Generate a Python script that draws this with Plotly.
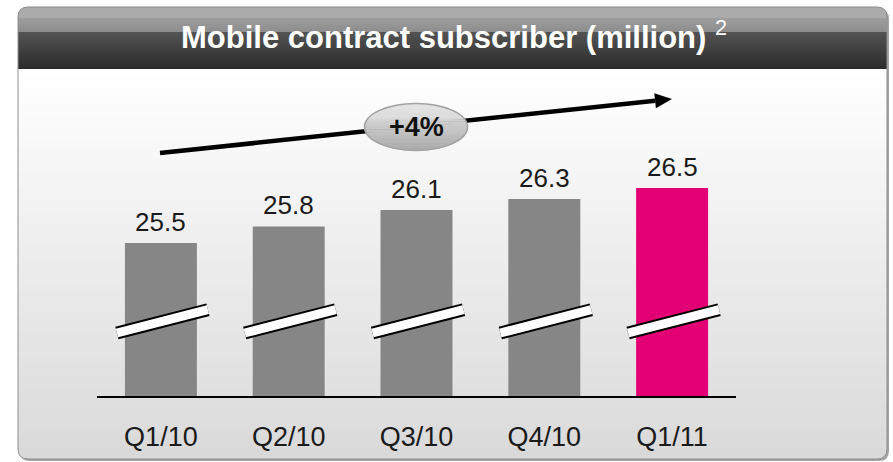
import numpy as np
import plotly.graph_objects as go

# ---------------- data ----------------
categories = ["Q1/10", "Q2/10", "Q3/10", "Q4/10", "Q1/11"]
values = [25.5, 25.8, 26.1, 26.3, 26.5]
value_labels = ["25.5", "25.8", "26.1", "26.3", "26.5"]
bar_colors = ["#868686", "#868686", "#868686", "#868686", "#e20074"]
growth_label = "+4%"
title_text = "<b>Mobile contract subscriber (million)</b> <sup>2</sup>"

# ---------------- geometry helpers (pixel -> paper) ----------------
W, H = 893, 462


def P(x, y):
    return f"{x / W:.5f},{1 - y / H:.5f}"


def rpath(x0, y0, x1, y1, rt, rb):
    return (f"M {P(x0 + rt, y0)} L {P(x1 - rt, y0)} Q {P(x1, y0)} {P(x1, y0 + rt)} "
            f"L {P(x1, y1 - rb)} Q {P(x1, y1)} {P(x1 - rb, y1)} "
            f"L {P(x0 + rb, y1)} Q {P(x0, y1)} {P(x0, y1 - rb)} "
            f"L {P(x0, y0 + rt)} Q {P(x0, y0)} {P(x0 + rt, y0)} Z")


def lerp_color(c0, c1, t):
    a = [int(c0[i:i + 2], 16) for i in (1, 3, 5)]
    b = [int(c1[i:i + 2], 16) for i in (1, 3, 5)]
    return "#" + "".join(f"{int(round(a[k] + (b[k] - a[k]) * t)):02x}" for k in range(3))


shapes = []
PX0, PX1 = 18, 887      # panel left/right
PY0, PY1 = 7, 459       # panel top/bottom
TB = 69                 # title bar bottom
R = 10

# shadow
shapes.append(dict(type="path", xref="paper", yref="paper", layer="below",
                   path=rpath(PX0 + 2, PY0 + 2, PX1 + 2, PY1 + 2, R, R),
                   fillcolor="#a3a3a3", line=dict(width=0)))
# body base
body_top_c, body_bot_c = "#ffffff", "#d9d9d9"
shapes.append(dict(type="path", xref="paper", yref="paper", layer="below",
                   path=rpath(PX0, TB - 2, PX1, PY1, 0, R),
                   fillcolor=body_bot_c, line=dict(width=0)))
ys = np.arange(TB, 446, 6)
for y in ys:
    t = (y - TB) / (PY1 - TB)
    shapes.append(dict(type="rect", xref="paper", yref="paper", layer="below",
                       x0=PX0 / W, x1=PX1 / W, y0=1 - y / H, y1=1 - (y + 6.6) / H,
                       fillcolor=lerp_color(body_top_c, body_bot_c, t), line=dict(width=0)))
# title bar
shapes.append(dict(type="path", xref="paper", yref="paper", layer="below",
                   path=rpath(PX0, PY0, PX1, TB, R, 0),
                   fillcolor="#ababab", line=dict(width=0)))
for y in np.arange(18, 32, 2):
    t = (y - PY0) / (32 - PY0)
    shapes.append(dict(type="rect", xref="paper", yref="paper", layer="below",
                       x0=PX0 / W, x1=PX1 / W, y0=1 - y / H, y1=1 - min(y + 2.5, 32) / H,
                       fillcolor=lerp_color("#ababab", "#8b8b8b", t), line=dict(width=0)))
for y in np.arange(32, TB, 2):
    t = (y - 32) / (TB - 32)
    shapes.append(dict(type="rect", xref="paper", yref="paper", layer="below",
                       x0=PX0 / W, x1=PX1 / W, y0=1 - y / H, y1=1 - min(y + 2.5, TB) / H,
                       fillcolor=lerp_color("#525252", "#2a2a2a", t), line=dict(width=0)))
# border
shapes.append(dict(type="path", xref="paper", yref="paper", layer="below",
                   path=rpath(PX0, PY0, PX1, PY1, R, R),
                   fillcolor="rgba(0,0,0,0)", line=dict(color="#8e8e8e", width=1)))

# ---------------- plot area ----------------
AX0, AX1 = 97, 736
AY_BOT, AY_TOP = 396, 70
YMIN, YMAX = 22.718, 28.645
step = (AX1 - AX0) / len(categories)

# axis-break marks on every bar
for i in range(len(categories)):
    cx = AX0 + (i + 0.5) * step
    for w, col in ((13, "#000000"), (9, "#ffffff")):
        shapes.append(dict(type="line", xref="paper", yref="paper", layer="above",
                           x0=(cx - 44) / W, y0=1 - 333 / H, x1=(cx + 47) / W, y1=1 - 309.7 / H,
                           line=dict(color=col, width=w)))

# growth arrow
ax0, ay0, ax1, ay1 = 160, 153, 672, 99
d = np.array([ax1 - ax0, ay1 - ay0], float)
u = d / np.linalg.norm(d)
n = np.array([-u[1], u[0]])
tip = np.array([ax1, ay1], float)
base = tip - 17 * u
c1, c2 = base + 7.5 * n, base - 7.5 * n
shapes.append(dict(type="line", xref="paper", yref="paper", layer="above",
                   x0=ax0 / W, y0=1 - ay0 / H, x1=base[0] / W, y1=1 - base[1] / H,
                   line=dict(color="#000000", width=4.5)))
shapes.append(dict(type="path", xref="paper", yref="paper", layer="above",
                   path=f"M {P(*tip)} L {P(*c1)} L {P(*c2)} Z",
                   fillcolor="#000000", line=dict(width=0)))

# ellipse badge with vertical gradient
ecx, ecy, erx, ery = 416, 127, 51.5, 23.5
nb = 18
edges = np.linspace(ecy - ery, ecy + ery, nb + 1)
for k in range(nb):
    y0, y1 = edges[k], edges[k + 1]
    yy = np.linspace(y0, y1, 5)
    xs = erx * np.sqrt(np.clip(1 - ((yy - ecy) / ery) ** 2, 0, 1))
    pts = [(ecx - x, y) for x, y in zip(xs, yy)] + [(ecx + x, y) for x, y in zip(xs[::-1], yy[::-1])]
    path = "M " + " L ".join(P(x, y) for x, y in pts) + " Z"
    t = (k + 0.5) / nb
    if t < 0.35:
        col = lerp_color("#e6e6e6", "#dadada", t / 0.35)
    else:
        col = lerp_color("#d2d2d2", "#a9a9a9", (t - 0.35) / 0.65)
    shapes.append(dict(type="path", xref="paper", yref="paper", layer="above",
                       path=path, fillcolor=col, line=dict(width=0.6, color=col)))
shapes.append(dict(type="circle", xref="paper", yref="paper", layer="above",
                   x0=(ecx - erx) / W, x1=(ecx + erx) / W,
                   y0=1 - (ecy - ery) / H, y1=1 - (ecy + ery) / H,
                   line=dict(color="#a2a2a2", width=1.5)))

# ---------------- figure ----------------
fig = go.Figure()
fig.add_trace(go.Bar(x=categories, y=values, width=0.563,
                     marker=dict(color=bar_colors, line=dict(width=0)),
                     hoverinfo="skip"))

annotations = []
for c, v, lab in zip(categories, values, value_labels):
    annotations.append(dict(x=c, y=v, xref="x", yref="y", text=lab, showarrow=False,
                            yanchor="bottom", yshift=4,
                            font=dict(family="Liberation Sans", size=26, color="#1a1a1a")))
annotations.append(dict(x=ecx / W, y=1 - ecy / H, xref="paper", yref="paper",
                        text=f"<b>{growth_label}</b>", showarrow=False,
                        xanchor="center", yanchor="middle",
                        font=dict(family="Liberation Sans", size=27, color="#111111")))
annotations.append(dict(x=454 / W, y=1 - 35 / H, xref="paper", yref="paper",
                        text=title_text, showarrow=False, xanchor="center", yanchor="middle",
                        font=dict(family="Liberation Sans", size=31, color="#ffffff")))

fig.update_layout(
    width=W, height=H,
    margin=dict(l=0, r=0, t=0, b=0),
    paper_bgcolor="#ffffff",
    plot_bgcolor="rgba(0,0,0,0)",
    showlegend=False,
    hovermode=False,
    shapes=shapes,
    annotations=annotations,
    xaxis=dict(domain=[AX0 / W, AX1 / W], type="category", range=[-0.5, 4.5],
               showline=True, linecolor="#000000", linewidth=2,
               showgrid=False, zeroline=False, ticks="", automargin=False,
               ticklabelstandoff=16, fixedrange=True,
               tickfont=dict(family="Liberation Sans", size=27, color="#1a1a1a")),
    yaxis=dict(domain=[1 - AY_BOT / H, 1 - AY_TOP / H], range=[YMIN, YMAX],
               visible=False, showgrid=False, zeroline=False, fixedrange=True),
)

fig.write_html("out.html",
               config={"displayModeBar": False, "staticPlot": True},
               post_script="document.body.style.margin='0';document.body.style.padding='0';"
                           "document.body.style.overflow='hidden';")
